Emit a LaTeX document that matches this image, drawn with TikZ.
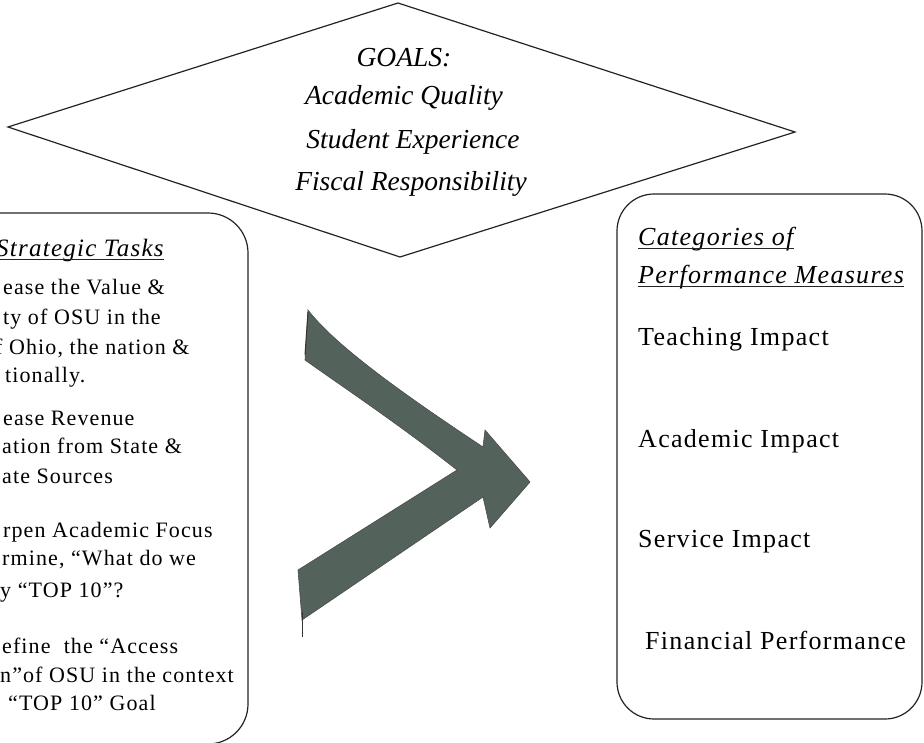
\documentclass[tikz,border=0pt]{standalone}
\usepackage{fontspec}
\usepackage{tikz}
\usetikzlibrary{positioning}
\setmainfont{Liberation Serif}
\newfontfamily\spacedfont[LetterSpace=5]{Liberation Serif}
\definecolor{arrowgray}{RGB}{84,98,92}
\definecolor{inkline}{RGB}{35,35,35}

\begin{document}
\begin{tikzpicture}[x=1pt,y=-1pt,
    tasktext/.style={anchor=base west,inner sep=0pt,font=\spacedfont\fontsize{22}{29}\selectfont},
    measuretext/.style={anchor=base west,inner sep=0pt,font=\spacedfont\fontsize{26}{32}\selectfont},
    headtext/.style={anchor=base west,inner sep=0pt,font=\spacedfont\itshape\fontsize{#1}{30}\selectfont},
    goaltext/.style={anchor=base,inner sep=0pt,font=\itshape\fontsize{27.5}{40}\selectfont},
    uline/.style={inkline,line width=0.9pt},
    frame/.style={inkline,line width=1.2pt}]
    \useasboundingbox (0,0) rectangle (924,742);
    \clip (0,0) rectangle (924,742);
    % Diamond with goals
    \draw[frame] (8,127) -- (398,3) -- (795,132) -- (400,257) -- cycle;
    \node[goaltext] (goals) at (404,66) {GOALS:};
    \node[goaltext] (quality) at (404,104) {Academic Quality};
    \node[goaltext] (student) at (413,148) {Student Experience};
    \node[goaltext] (fiscal) at (411,190) {Fiscal Responsibility};
    % Left box (strategic tasks)
    \draw[frame,rounded corners=40pt] (-80,213) rectangle (248,744);
    \node[headtext=25] (tasks) at (-4,256) {Strategic Tasks};
    \draw[uline] ([yshift=-3pt]tasks.base west) -- ([yshift=-3pt]tasks.base east);
    \foreach \n/\x/\y/\t in {t1/3/294/{ease the Value \&},
                             t2/3/324/{ty of OSU in the},
                             t3/-5/354/{f Ohio, the nation \&},
                             t4/5/382/{tionally.},
                             t5/3/425/{ease Revenue},
                             t6/2/453/{ation from State \&},
                             t7/2/483/{ate Sources},
                             t8/3/537/{rpen Academic Focus},
                             t9/2/565/{rmine, “What do we},
                             t10/0/597/{y “TOP 10”?},
                             t11/2/653/{efine~ the “Access},
                             t12/0/682/{n”of OSU in the context},
                             t13/8/710/{“TOP 10” Goal}}
      \node[tasktext] (\n) at (\x,\y) {\t};
    % Arrow
    \filldraw[fill=arrowgray,draw=black!70,line width=0.6pt]
      (308,310) .. controls (335,345) and (400,392) .. (483,447)
      -- (485,430) -- (530,482) -- (490,528) -- (483,497)
      -- (302,620) -- (298,570) -- (457,470)
      .. controls (400,425) and (340,385) .. (305,360) -- cycle;
    \draw[black!80,line width=1pt] (302,612) -- (302,637);
    \draw[black!80,line width=1pt] (308,312) -- (305,355);
    % Right box (performance measures)
    \draw[frame,rounded corners=37pt] (617,194) rectangle (922,719);
    \node[headtext=26] (categories) at (638,245) {Categories of};
    \node[headtext=26] (measures) at (638,283) {Performance Measures};
    \draw[uline] ([yshift=-3pt]categories.base west) -- ([yshift=-3pt]categories.base east);
    \draw[uline] ([yshift=-3pt]measures.base west) -- ([yshift=-3pt]measures.base east);
    \node[measuretext] (teaching) at (638,345) {Teaching Impact};
    \node[measuretext] (academic) at (638,447) {Academic Impact};
    \node[measuretext] (service) at (638,547) {Service Impact};
    \node[measuretext] (financial) at (645,649) {Financial Performance};
\end{tikzpicture}
\end{document}
